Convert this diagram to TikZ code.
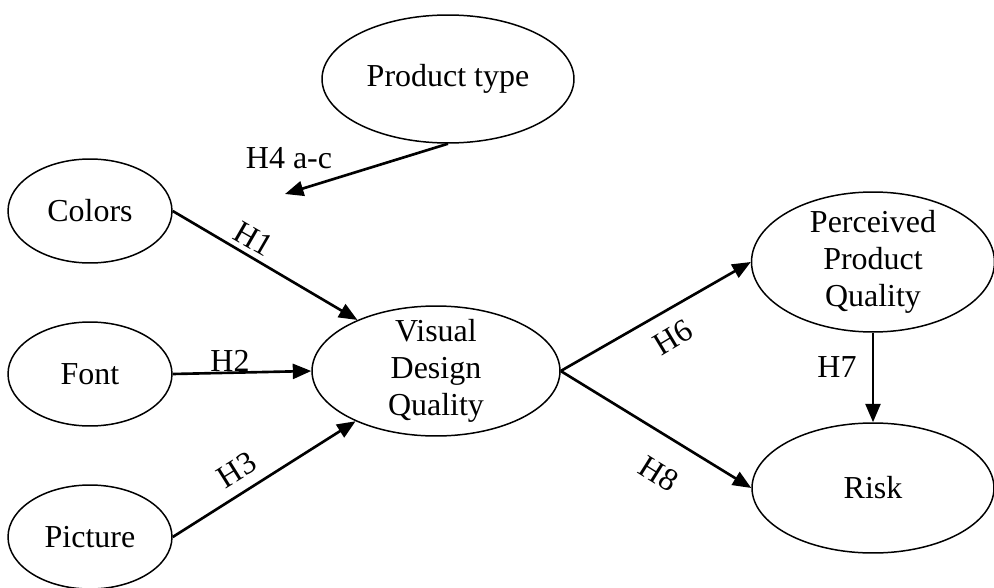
\documentclass[tikz,border=0pt]{standalone}
\usepackage{fontspec}
\setmainfont{Liberation Serif}
\usetikzlibrary{shapes.geometric,arrows.meta}

\begin{document}
\begin{tikzpicture}
    [x=0.02cm, y=-0.02cm,
     Latent/.style={ellipse, draw=black, line width=0.85pt, inner sep=-5pt, align=center,
                    font=\fontsize{18.2}{21}\selectfont},
     Small/.style={minimum width=3.28cm, minimum height=2.08cm},
     Arrow/.style={-{Triangle[length=10.5pt,width=8.5pt]}, line width=1.5pt},
     Label/.style={inner sep=0pt, font=\fontsize{18.2}{21}\selectfont}]
	\useasboundingbox (0,0) rectangle (994,588);
	% constructs
	\foreach \name/\y in {Colors/211,Font/374,Picture/537}
		\node[Latent, Small] (\name) at (90, \y) {\name};
	\node[Latent, minimum width=5.04cm, minimum height=2.56cm] (Type) at (448, 79) {Product type};
	\node[Latent, minimum width=4.96cm, minimum height=2.6cm] (VDQ) at (436, 371) {Visual\\Design\\Quality};
	\node[Latent, minimum width=4.86cm, minimum height=2.8cm] (PPQ) at (873, 262) {Perceived\\Product\\Quality};
	\node[Latent, minimum width=4.84cm, minimum height=2.6cm] (Risk) at (873, 488) {Risk};
	\coordinate (TypeTarget) at (285, 194);
	% paths
	\draw[Arrow] (Colors.east) -- (VDQ.147);
	\draw[Arrow] (Font.east) -- (VDQ.west);
	\draw[Arrow] (Picture.east) -- (VDQ.212);
	\draw[Arrow] (Type.south) -- (TypeTarget);
	\draw[Arrow] (VDQ.east) -- (PPQ.west);
	\draw[Arrow] (VDQ.east) -- (Risk.west);
	\draw[Arrow] (PPQ.south) -- (Risk.north);
	% hypotheses
	\node[Label, rotate=-30] (H1) at (254, 239) {H1};
	\node[Label] (H2) at (230, 361) {H2};
	\node[Label, rotate=32] (H3) at (237, 470) {H3};
	\node[Label] (H4) at (289, 158) {H4 a-c};
	\node[Label, rotate=31] (H6) at (673, 337) {H6};
	\node[Label] (H7) at (837, 367) {H7};
	\node[Label, rotate=-32] (H8) at (659, 474) {H8};
\end{tikzpicture}
\end{document}
